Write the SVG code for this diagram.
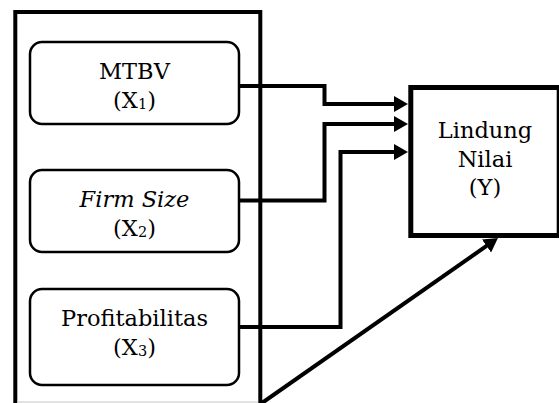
<svg xmlns="http://www.w3.org/2000/svg" width="559" height="403" viewBox="0 0 559 403">
<style>
.txt{font-family:"DejaVu Serif","Liberation Serif",serif;font-size:22.5px;fill:#000;text-anchor:middle}
.sub{font-size:14.5px}
.inbox{fill:#fff;stroke:#000;stroke-width:2.5}
.conn{fill:none;stroke:#000;stroke-width:4;stroke-linejoin:miter}
</style>
<defs>
<marker id="arr" markerUnits="userSpaceOnUse" markerWidth="15" markerHeight="16" viewBox="0 0 15 16" refX="1" refY="8" orient="auto">
<path d="M0,0 L14,8 L0,16 z" fill="#000"/>
</marker>
</defs>
<rect width="559" height="403" fill="#fff"/>
<g id="outer">
<rect x="15.3" y="12" width="245" height="420" fill="none" stroke="#000" stroke-width="4"/>
<line x1="17" y1="402" x2="258" y2="402" stroke="#c4c4c4" stroke-width="1"/>
</g>
<g id="mtbv">
<rect class="inbox" x="30" y="42" width="209" height="82" rx="12"/>
<text class="txt" x="134.5" y="79">MTBV</text>
<text class="txt" x="134.5" y="108">(X<tspan class="sub" dy="1">1</tspan><tspan dy="-1">)</tspan></text>
</g>
<g id="firmsize">
<rect class="inbox" x="30" y="170" width="209" height="82" rx="12"/>
<text class="txt" x="134.5" y="207" font-style="italic">Firm Size</text>
<text class="txt" x="134.5" y="236">(X<tspan class="sub" dy="1">2</tspan><tspan dy="-1">)</tspan></text>
</g>
<g id="profit">
<rect class="inbox" x="30" y="289" width="209" height="96" rx="12"/>
<text class="txt" x="134.5" y="326">Profitabilitas</text>
<text class="txt" x="134.5" y="355">(X<tspan class="sub" dy="1">3</tspan><tspan dy="-1">)</tspan></text>
</g>
<g id="lindung">
<rect x="410.8" y="87.5" width="148.4" height="148" fill="#fff" stroke="#000" stroke-width="5"/>
<text class="txt" x="485" y="138">Lindung</text>
<text class="txt" x="485" y="167">Nilai</text>
<text class="txt" x="485" y="195">(Y)</text>
</g>
<g id="connectors">
<path class="conn" d="M239,86 H324.5 V104 H395" marker-end="url(#arr)"/>
<path class="conn" d="M239,200.5 H324.5 V124 H395" marker-end="url(#arr)"/>
<path class="conn" d="M239,327 H340.5 V152 H395" marker-end="url(#arr)"/>
<path class="conn" d="M262,403 L487.3,245.4" marker-end="url(#arr)"/>
</g>
</svg>
